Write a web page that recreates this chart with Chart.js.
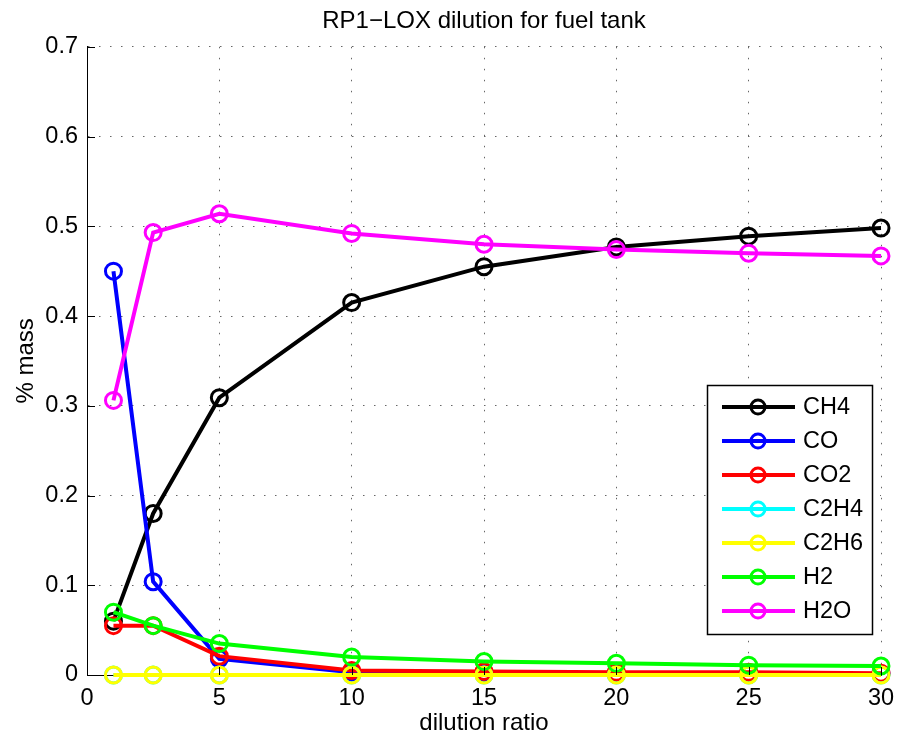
<!DOCTYPE html>
<html>
<head>
<meta charset="utf-8">
<script src="https://cdn.jsdelivr.net/npm/chart.js@4"></script>
<style>
  html, body { margin: 0; padding: 0; background: #fff; }
  #wrap { width: 898px; height: 738px; }
</style>
</head>
<body>
<div id="wrap"><canvas id="chart" width="898" height="738"></canvas></div>
<script>
var dilution = [1, 2.5, 5, 10, 15, 20, 25, 30];
var ch4  = [0.06, 0.18, 0.309, 0.415, 0.455, 0.477, 0.489, 0.498];
var co   = [0.45, 0.104, 0.018, 0.003, 0.002, 0.001, 0.001, 0.001];
var co2  = [0.055, 0.055, 0.021, 0.005, 0.004, 0.003, 0.003, 0.002];
var c2h4 = [0, 0, 0, 0, 0, 0, 0, 0];
var c2h6 = [0, 0, 0, 0, 0, 0, 0, 0];
var h2   = [0.07, 0.055, 0.035, 0.02, 0.015, 0.013, 0.011, 0.01];
var h2o  = [0.306, 0.493, 0.514, 0.492, 0.48, 0.474, 0.47, 0.467];
var xTicks = [0, 5, 10, 15, 20, 25, 30];
var yTicks = [0, 0.1, 0.2, 0.3, 0.4, 0.5, 0.6, 0.7];

var names  = ['CH4', 'CO', 'CO2', 'C2H4', 'C2H6', 'H2', 'H2O'];
var series = [ch4, co, co2, c2h4, c2h6, h2, h2o];
var colors = ['#000000', '#0000ff', '#ff0000', '#00ffff', '#ffff00', '#00ff00', '#ff00ff'];

var FONT = "'Liberation Sans', Arial, sans-serif";
var FS = 23.5;

var datasets = series.map(function (s, i) {
    return {
        label: names[i],
        data: s.map(function (v, j) { return { x: dilution[j], y: v }; }),
        borderColor: colors[i],
        backgroundColor: colors[i],
        pointBorderColor: colors[i],
        pointBackgroundColor: 'rgba(255,255,255,0)',
        borderWidth: 4,
        pointRadius: 8,
        pointBorderWidth: 3,
        tension: 0,
        clip: false,
        order: names.length - i
    };
});

// inward tick marks, MATLAB style
var tickMarks = {
    id: 'tickMarks',
    afterDraw: function (chart) {
        var c = chart.ctx, a = chart.chartArea;
        var xs = chart.scales.x, ys = chart.scales.y;
        c.save();
        c.strokeStyle = '#000';
        c.lineWidth = 1;
        c.beginPath();
        xTicks.forEach(function (t) {
            var px = Math.round(xs.getPixelForValue(t)) + 0.5;
            c.moveTo(px, a.bottom); c.lineTo(px, a.bottom - 8);
        });
        yTicks.forEach(function (t) {
            var py = Math.round(ys.getPixelForValue(t)) + 0.5;
            c.moveTo(a.left, py); c.lineTo(a.left + 8, py);
        });
        c.stroke();
        c.restore();
    }
};

// legend box inside the plot, lower right
var boxLegend = {
    id: 'boxLegend',
    afterDraw: function (chart) {
        var c = chart.ctx, a = chart.chartArea;
        var w = 165, rowH = 34, h = 249;
        var x0 = a.right - 9 - w, y0 = a.bottom - 41 - h;
        c.save();
        c.fillStyle = '#fff';
        c.fillRect(x0, y0, w, h);
        c.strokeStyle = '#000';
        c.lineWidth = 1.5;
        c.strokeRect(x0 + 0.5, y0 + 0.5, w, h);
        c.font = FS + 'px ' + FONT;
        c.textBaseline = 'middle';
        names.forEach(function (n, i) {
            var y = y0 + 22 + i * rowH;
            c.strokeStyle = colors[i];
            c.lineWidth = 4;
            c.beginPath();
            c.moveTo(x0 + 15, y); c.lineTo(x0 + 88, y);
            c.stroke();
            c.lineWidth = 3;
            c.beginPath();
            c.arc(x0 + 51, y, 7, 0, Math.PI * 2);
            c.stroke();
            c.fillStyle = '#000';
            c.fillText(n, x0 + 96, y + 1);
        });
        c.restore();
    }
};

var ctx = document.getElementById('chart').getContext('2d');
var myChart = new Chart(ctx, {
    type: 'line',
    data: { datasets: datasets },
    plugins: [tickMarks, boxLegend],
    options: {
        responsive: false,
        animation: false,
        layout: { padding: { top: 0, right: 17, bottom: 0, left: 0 } },
        plugins: {
            legend: { display: false },
            tooltip: { enabled: false },
            title: {
                display: true,
                fullSize: false,
                text: 'RP1\u2212LOX dilution for fuel tank',
                color: '#000',
                font: { family: FONT, size: 24, weight: 'normal', lineHeight: 1.2 },
                padding: { top: 7, bottom: 11 }
            }
        },
        scales: {
            x: {
                type: 'linear',
                min: 0,
                max: 30,
                afterBuildTicks: function (s) { s.ticks = xTicks.map(function (v) { return { value: v }; }); },
                afterFit: function (s) { s.height = 63; s.paddingLeft = 0; s.paddingRight = 0; },
                ticks: { color: '#000', font: { family: FONT, size: FS }, padding: 9, maxRotation: 0 },
                grid: { color: '#666', drawTicks: false, lineWidth: 1 },
                border: { display: true, color: '#000', width: 1, dash: [1.5, 9.5] },
                title: {
                    display: true,
                    text: 'dilution ratio',
                    color: '#000',
                    font: { family: FONT, size: 24 },
                    padding: { top: 0, bottom: 0 }
                }
            },
            y: {
                type: 'linear',
                min: 0,
                max: 0.7,
                afterBuildTicks: function (s) { s.ticks = yTicks.map(function (v) { return { value: v }; }); },
                afterFit: function (s) { s.width = 87; s.paddingTop = 0; s.paddingBottom = 0; },
                ticks: { color: '#000', font: { family: FONT, size: FS }, padding: 9 },
                grid: { color: '#666', drawTicks: false, lineWidth: 1 },
                border: { display: true, color: '#000', width: 1, dash: [1.5, 9.5] },
                title: {
                    display: true,
                    text: '% mass',
                    color: '#000',
                    font: { family: FONT, size: 24 },
                    padding: { top: 12, bottom: 12 }
                }
            }
        }
    }
});
</script>
</body>
</html>
